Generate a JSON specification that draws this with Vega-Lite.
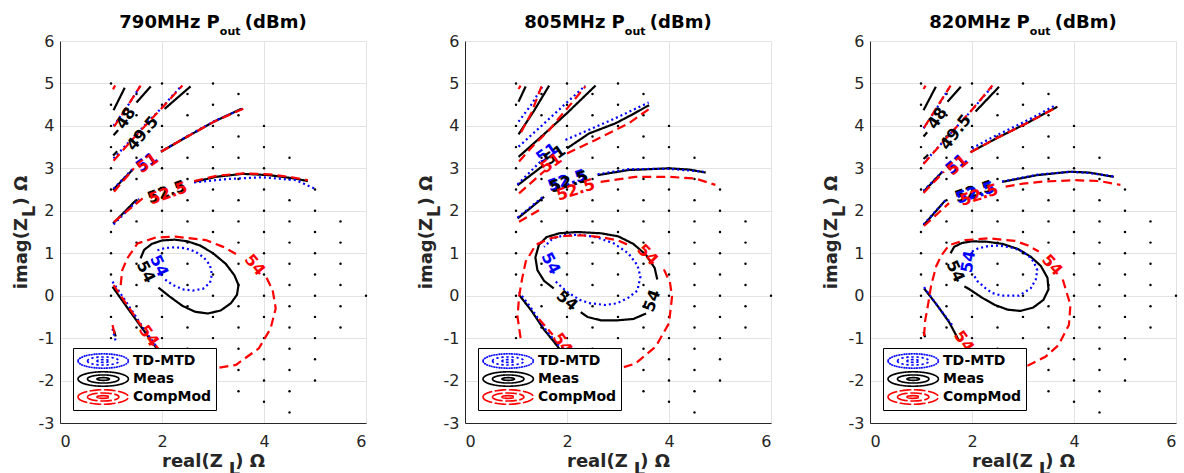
{
"$schema":"https://vega.github.io/schema/vega-lite/v6.json",
"background":"white",
"padding":{"left":12,"top":14,"right":0,"bottom":0},
"bounds":"flush",
"spacing":99,
"config":{
 "font":"DejaVu Sans",
 "view":{"stroke":null},
 "axis":{"labelFont":"DejaVu Sans","labelFontSize":16,"labelColor":"#262626","titleFont":"DejaVu Sans","titleFontSize":18,"titleFontWeight":"bold","titleColor":"#262626","gridColor":"#e3e3e3","gridWidth":1,"domainColor":"#262626","domainWidth":1,"ticks":false,"tickSize":0},
 "title":{"font":"DejaVu Sans","fontSize":18,"fontWeight":"bold","color":"black","frame":"group","anchor":"middle","offset":-4,"subtitleFont":"DejaVu Sans","subtitleFontSize":11,"subtitleFontWeight":"bold","subtitleColor":"black","subtitlePadding":-6}
},
"resolve":{"scale":{"color":"independent","strokeDash":"independent","fill":"independent"},"legend":{"color":"independent","strokeDash":"independent"}},
"datasets":{
"dots":[
{"x":1,"y":5},{"x":1,"y":4.5},{"x":1,"y":4},{"x":1,"y":3.5},{"x":1,"y":3},{"x":1,"y":2.5},{"x":1,"y":2},{"x":1,"y":1.5},{"x":1,"y":1},{"x":1,"y":0.5},{"x":1,"y":0},{"x":1,"y":-0.5},{"x":1,"y":-1},
{"x":1.5,"y":4.75},{"x":1.5,"y":4.25},{"x":1.5,"y":3.75},{"x":1.5,"y":3.25},{"x":1.5,"y":2.75},{"x":1.5,"y":2.25},{"x":1.5,"y":1.75},{"x":1.5,"y":1.25},{"x":1.5,"y":0.75},{"x":1.5,"y":0.25},{"x":1.5,"y":-0.25},{"x":1.5,"y":-0.75},
{"x":2,"y":5},{"x":2,"y":4.5},{"x":2,"y":4},{"x":2,"y":3.5},{"x":2,"y":3},{"x":2,"y":2.5},{"x":2,"y":2},{"x":2,"y":1.5},{"x":2,"y":1},{"x":2,"y":0.5},{"x":2,"y":0},{"x":2,"y":-0.5},{"x":2,"y":-1},
{"x":2.5,"y":4.75},{"x":2.5,"y":4.25},{"x":2.5,"y":3.75},{"x":2.5,"y":3.25},{"x":2.5,"y":2.75},{"x":2.5,"y":2.25},{"x":2.5,"y":1.75},{"x":2.5,"y":1.25},{"x":2.5,"y":0.75},{"x":2.5,"y":0.25},{"x":2.5,"y":-0.25},{"x":2.5,"y":-0.75},{"x":2.5,"y":-1.25},
{"x":3,"y":5},{"x":3,"y":4.5},{"x":3,"y":4},{"x":3,"y":3.5},{"x":3,"y":3},{"x":3,"y":2.5},{"x":3,"y":2},{"x":3,"y":1.5},{"x":3,"y":1},{"x":3,"y":0.5},{"x":3,"y":0},{"x":3,"y":-0.5},{"x":3,"y":-1},{"x":3,"y":-1.5},{"x":3,"y":-2},
{"x":3.5,"y":4.75},{"x":3.5,"y":4.25},{"x":3.5,"y":3.75},{"x":3.5,"y":3.25},{"x":3.5,"y":2.75},{"x":3.5,"y":2.25},{"x":3.5,"y":1.75},{"x":3.5,"y":1.25},{"x":3.5,"y":0.75},{"x":3.5,"y":0.25},{"x":3.5,"y":-0.25},{"x":3.5,"y":-0.75},{"x":3.5,"y":-1.25},{"x":3.5,"y":-1.75},{"x":3.5,"y":-2.25},
{"x":4,"y":4},{"x":4,"y":3.5},{"x":4,"y":3},{"x":4,"y":2.5},{"x":4,"y":2},{"x":4,"y":1.5},{"x":4,"y":1},{"x":4,"y":0.5},{"x":4,"y":0},{"x":4,"y":-0.5},{"x":4,"y":-1},{"x":4,"y":-1.5},{"x":4,"y":-2},{"x":4,"y":-2.5},
{"x":4.5,"y":3.25},{"x":4.5,"y":2.75},{"x":4.5,"y":2.25},{"x":4.5,"y":1.75},{"x":4.5,"y":1.25},{"x":4.5,"y":0.75},{"x":4.5,"y":0.25},{"x":4.5,"y":-0.25},{"x":4.5,"y":-0.75},{"x":4.5,"y":-1.25},{"x":4.5,"y":-1.75},{"x":4.5,"y":-2.25},{"x":4.5,"y":-2.75},
{"x":5,"y":2.5},{"x":5,"y":2},{"x":5,"y":1.5},{"x":5,"y":1},{"x":5,"y":0.5},{"x":5,"y":0},{"x":5,"y":-0.5},{"x":5,"y":-1},{"x":5,"y":-1.5},{"x":5,"y":-2},
{"x":5.5,"y":1.75},{"x":5.5,"y":1.25},{"x":5.5,"y":0.75},{"x":5.5,"y":0.25},{"x":5.5,"y":-0.25},{"x":5.5,"y":-0.75},
{"x":6,"y":0}
],
"lines":[
{"p":"790","s":"Meas","g":"m46","x":1.05,"y":4.37},{"p":"790","s":"Meas","g":"m46","x":1.27,"y":4.90},
{"p":"790","s":"Meas","g":"m48a","x":1.05,"y":3.78},{"p":"790","s":"Meas","g":"m48a","x":1.14,"y":3.90},
{"p":"790","s":"Meas","g":"m48b","x":1.50,"y":4.55},{"p":"790","s":"Meas","g":"m48b","x":1.78,"y":4.93},
{"p":"790","s":"Meas","g":"m49a","x":1.04,"y":3.30},{"p":"790","s":"Meas","g":"m49a","x":1.12,"y":3.40},
{"p":"790","s":"Meas","g":"m49b","x":2.05,"y":4.40},{"p":"790","s":"Meas","g":"m49b","x":2.30,"y":4.66},{"p":"790","s":"Meas","g":"m49b","x":2.56,"y":4.93},
{"p":"790","s":"Meas","g":"m51a","x":1.04,"y":2.49},{"p":"790","s":"Meas","g":"m51a","x":1.23,"y":2.73},{"p":"790","s":"Meas","g":"m51a","x":1.42,"y":2.96},
{"p":"790","s":"Meas","g":"m51b","x":1.98,"y":3.39},{"p":"790","s":"Meas","g":"m51b","x":2.5,"y":3.75},{"p":"790","s":"Meas","g":"m51b","x":3.02,"y":4.10},{"p":"790","s":"Meas","g":"m51b","x":3.55,"y":4.40},
{"p":"790","s":"Meas","g":"m52a","x":1.04,"y":1.70},{"p":"790","s":"Meas","g":"m52a","x":1.27,"y":1.98},{"p":"790","s":"Meas","g":"m52a","x":1.49,"y":2.25},
{"p":"790","s":"Meas","g":"m52b","x":2.63,"y":2.68},{"p":"790","s":"Meas","g":"m52b","x":3.06,"y":2.80},{"p":"790","s":"Meas","g":"m52b","x":3.58,"y":2.87},{"p":"790","s":"Meas","g":"m52b","x":4.10,"y":2.84},{"p":"790","s":"Meas","g":"m52b","x":4.55,"y":2.77},{"p":"790","s":"Meas","g":"m52b","x":4.86,"y":2.70},
{"p":"790","s":"Meas","g":"m54","x":1.58,"y":0.88},{"p":"790","s":"Meas","g":"m54","x":1.65,"y":1.08},{"p":"790","s":"Meas","g":"m54","x":1.80,"y":1.22},{"p":"790","s":"Meas","g":"m54","x":2.0,"y":1.30},{"p":"790","s":"Meas","g":"m54","x":2.25,"y":1.32},{"p":"790","s":"Meas","g":"m54","x":2.5,"y":1.28},{"p":"790","s":"Meas","g":"m54","x":2.75,"y":1.18},{"p":"790","s":"Meas","g":"m54","x":3.0,"y":1.0},{"p":"790","s":"Meas","g":"m54","x":3.25,"y":0.75},{"p":"790","s":"Meas","g":"m54","x":3.42,"y":0.48},{"p":"790","s":"Meas","g":"m54","x":3.50,"y":0.25},{"p":"790","s":"Meas","g":"m54","x":3.47,"y":0.02},{"p":"790","s":"Meas","g":"m54","x":3.35,"y":-0.18},{"p":"790","s":"Meas","g":"m54","x":3.15,"y":-0.35},{"p":"790","s":"Meas","g":"m54","x":2.9,"y":-0.42},{"p":"790","s":"Meas","g":"m54","x":2.65,"y":-0.38},{"p":"790","s":"Meas","g":"m54","x":2.4,"y":-0.24},{"p":"790","s":"Meas","g":"m54","x":2.15,"y":-0.02},{"p":"790","s":"Meas","g":"m54","x":1.93,"y":0.19},
{"p":"790","s":"Meas","g":"m54d","x":1.03,"y":0.21},{"p":"790","s":"Meas","g":"m54d","x":1.3,"y":-0.25},{"p":"790","s":"Meas","g":"m54d","x":1.6,"y":-0.75},{"p":"790","s":"Meas","g":"m54d","x":1.9,"y":-1.25},
{"p":"790","s":"Meas","g":"m54s","x":1.06,"y":-0.82},{"p":"790","s":"Meas","g":"m54s","x":1.09,"y":-0.96},
{"p":"790","s":"TD-MTD","g":"b48","x":1.05,"y":4.0},{"p":"790","s":"TD-MTD","g":"b48","x":1.3,"y":4.42},{"p":"790","s":"TD-MTD","g":"b48","x":1.57,"y":4.93},
{"p":"790","s":"TD-MTD","g":"b49","x":1.05,"y":3.23},{"p":"790","s":"TD-MTD","g":"b49","x":1.45,"y":3.75},{"p":"790","s":"TD-MTD","g":"b49","x":1.98,"y":4.41},{"p":"790","s":"TD-MTD","g":"b49","x":2.37,"y":4.93},
{"p":"790","s":"TD-MTD","g":"b51a","x":1.05,"y":2.52},{"p":"790","s":"TD-MTD","g":"b51a","x":1.42,"y":2.98},
{"p":"790","s":"TD-MTD","g":"b51b","x":1.98,"y":3.40},{"p":"790","s":"TD-MTD","g":"b51b","x":2.5,"y":3.76},{"p":"790","s":"TD-MTD","g":"b51b","x":3.02,"y":4.11},{"p":"790","s":"TD-MTD","g":"b51b","x":3.61,"y":4.42},
{"p":"790","s":"TD-MTD","g":"b52a","x":1.05,"y":1.68},{"p":"790","s":"TD-MTD","g":"b52a","x":1.55,"y":2.28},
{"p":"790","s":"TD-MTD","g":"b52b","x":2.63,"y":2.67},{"p":"790","s":"TD-MTD","g":"b52b","x":3.3,"y":2.75},{"p":"790","s":"TD-MTD","g":"b52b","x":3.97,"y":2.79},{"p":"790","s":"TD-MTD","g":"b52b","x":4.63,"y":2.72},{"p":"790","s":"TD-MTD","g":"b52b","x":5.0,"y":2.52},
{"p":"790","s":"TD-MTD","g":"b54","x":1.91,"y":1.07},{"p":"790","s":"TD-MTD","g":"b54","x":2.05,"y":1.12},{"p":"790","s":"TD-MTD","g":"b54","x":2.25,"y":1.14},{"p":"790","s":"TD-MTD","g":"b54","x":2.45,"y":1.12},{"p":"790","s":"TD-MTD","g":"b54","x":2.65,"y":1.04},{"p":"790","s":"TD-MTD","g":"b54","x":2.82,"y":0.9},{"p":"790","s":"TD-MTD","g":"b54","x":2.94,"y":0.72},{"p":"790","s":"TD-MTD","g":"b54","x":2.98,"y":0.5},{"p":"790","s":"TD-MTD","g":"b54","x":2.94,"y":0.3},{"p":"790","s":"TD-MTD","g":"b54","x":2.8,"y":0.16},{"p":"790","s":"TD-MTD","g":"b54","x":2.6,"y":0.12},{"p":"790","s":"TD-MTD","g":"b54","x":2.4,"y":0.15},{"p":"790","s":"TD-MTD","g":"b54","x":2.2,"y":0.26},{"p":"790","s":"TD-MTD","g":"b54","x":2.04,"y":0.40},
{"p":"790","s":"TD-MTD","g":"b54d","x":1.03,"y":0.33},{"p":"790","s":"TD-MTD","g":"b54d","x":1.3,"y":-0.15},{"p":"790","s":"TD-MTD","g":"b54d","x":1.6,"y":-0.7},{"p":"790","s":"TD-MTD","g":"b54d","x":1.92,"y":-1.25},
{"p":"790","s":"TD-MTD","g":"b54s","x":1.03,"y":-0.78},{"p":"790","s":"TD-MTD","g":"b54s","x":1.09,"y":-1.06},
{"p":"790","s":"CompMod","g":"r46","x":1.04,"y":4.86},{"p":"790","s":"CompMod","g":"r46","x":1.08,"y":4.95},
{"p":"790","s":"CompMod","g":"r48","x":1.06,"y":3.98},{"p":"790","s":"CompMod","g":"r48","x":1.3,"y":4.42},{"p":"790","s":"CompMod","g":"r48","x":1.58,"y":4.95},
{"p":"790","s":"CompMod","g":"r49","x":1.05,"y":3.18},{"p":"790","s":"CompMod","g":"r49","x":1.45,"y":3.72},{"p":"790","s":"CompMod","g":"r49","x":1.98,"y":4.40},{"p":"790","s":"CompMod","g":"r49","x":2.4,"y":4.95},
{"p":"790","s":"CompMod","g":"r51a","x":1.06,"y":2.45},{"p":"790","s":"CompMod","g":"r51a","x":1.45,"y":3.0},
{"p":"790","s":"CompMod","g":"r51b","x":1.98,"y":3.39},{"p":"790","s":"CompMod","g":"r51b","x":2.5,"y":3.75},{"p":"790","s":"CompMod","g":"r51b","x":3.02,"y":4.1},{"p":"790","s":"CompMod","g":"r51b","x":3.68,"y":4.45},
{"p":"790","s":"CompMod","g":"r52a","x":1.06,"y":1.74},{"p":"790","s":"CompMod","g":"r52a","x":1.62,"y":2.29},
{"p":"790","s":"CompMod","g":"r52b","x":2.63,"y":2.70},{"p":"790","s":"CompMod","g":"r52b","x":3.1,"y":2.83},{"p":"790","s":"CompMod","g":"r52b","x":3.6,"y":2.88},{"p":"790","s":"CompMod","g":"r52b","x":4.1,"y":2.86},{"p":"790","s":"CompMod","g":"r52b","x":4.55,"y":2.79},{"p":"790","s":"CompMod","g":"r52b","x":4.86,"y":2.72},
{"p":"790","s":"CompMod","g":"r54a","x":1.19,"y":0.25},{"p":"790","s":"CompMod","g":"r54a","x":1.22,"y":0.6},{"p":"790","s":"CompMod","g":"r54a","x":1.32,"y":0.88},{"p":"790","s":"CompMod","g":"r54a","x":1.52,"y":1.23},{"p":"790","s":"CompMod","g":"r54a","x":1.88,"y":1.37},{"p":"790","s":"CompMod","g":"r54a","x":2.27,"y":1.39},{"p":"790","s":"CompMod","g":"r54a","x":2.86,"y":1.31},{"p":"790","s":"CompMod","g":"r54a","x":3.2,"y":1.15},{"p":"790","s":"CompMod","g":"r54a","x":3.45,"y":0.98},
{"p":"790","s":"CompMod","g":"r54b","x":4.05,"y":0.42},{"p":"790","s":"CompMod","g":"r54b","x":4.17,"y":0.13},{"p":"790","s":"CompMod","g":"r54b","x":4.23,"y":-0.3},{"p":"790","s":"CompMod","g":"r54b","x":4.13,"y":-0.77},{"p":"790","s":"CompMod","g":"r54b","x":3.9,"y":-1.24},{"p":"790","s":"CompMod","g":"r54b","x":3.45,"y":-1.63},{"p":"790","s":"CompMod","g":"r54b","x":3.06,"y":-1.71},{"p":"790","s":"CompMod","g":"r54b","x":2.7,"y":-1.72},
{"p":"790","s":"CompMod","g":"r54s","x":1.03,"y":-0.69},{"p":"790","s":"CompMod","g":"r54s","x":1.09,"y":-1.0},
{"p":"790","s":"CompMod","g":"r54d","x":1.05,"y":0.25},{"p":"790","s":"CompMod","g":"r54d","x":1.35,"y":-0.28},{"p":"790","s":"CompMod","g":"r54d","x":1.6,"y":-0.72},
{"p":"790","s":"CompMod","g":"r54e","x":1.88,"y":-1.17},{"p":"790","s":"CompMod","g":"r54e","x":2.0,"y":-1.4},

{"p":"805","s":"Meas","g":"m46","x":1.05,"y":4.57},{"p":"805","s":"Meas","g":"m46","x":1.19,"y":4.93},
{"p":"805","s":"Meas","g":"m48","x":1.05,"y":3.80},{"p":"805","s":"Meas","g":"m48","x":1.35,"y":4.35},{"p":"805","s":"Meas","g":"m48","x":1.65,"y":4.95},
{"p":"805","s":"Meas","g":"m49","x":1.05,"y":3.27},{"p":"805","s":"Meas","g":"m49","x":1.5,"y":3.75},{"p":"805","s":"Meas","g":"m49","x":2.0,"y":4.3},{"p":"805","s":"Meas","g":"m49","x":2.56,"y":4.95},
{"p":"805","s":"Meas","g":"m51a","x":1.03,"y":2.6},{"p":"805","s":"Meas","g":"m51a","x":1.3,"y":2.85},{"p":"805","s":"Meas","g":"m51a","x":1.55,"y":3.08},
{"p":"805","s":"Meas","g":"m51b","x":2.0,"y":3.47},{"p":"805","s":"Meas","g":"m51b","x":2.43,"y":3.82},{"p":"805","s":"Meas","g":"m51b","x":2.95,"y":4.06},{"p":"805","s":"Meas","g":"m51b","x":3.3,"y":4.28},{"p":"805","s":"Meas","g":"m51b","x":3.61,"y":4.49},
{"p":"805","s":"Meas","g":"m52a","x":1.03,"y":1.82},{"p":"805","s":"Meas","g":"m52a","x":1.3,"y":2.08},{"p":"805","s":"Meas","g":"m52a","x":1.55,"y":2.33},
{"p":"805","s":"Meas","g":"m52b","x":2.6,"y":2.84},{"p":"805","s":"Meas","g":"m52b","x":3.21,"y":2.96},{"p":"805","s":"Meas","g":"m52b","x":4.0,"y":3.0},{"p":"805","s":"Meas","g":"m52b","x":4.4,"y":2.97},{"p":"805","s":"Meas","g":"m52b","x":4.72,"y":2.9},
{"p":"805","s":"Meas","g":"m54a","x":1.74,"y":0.17},{"p":"805","s":"Meas","g":"m54a","x":1.55,"y":0.35},{"p":"805","s":"Meas","g":"m54a","x":1.42,"y":0.6},{"p":"805","s":"Meas","g":"m54a","x":1.38,"y":0.9},{"p":"805","s":"Meas","g":"m54a","x":1.45,"y":1.2},{"p":"805","s":"Meas","g":"m54a","x":1.6,"y":1.38},{"p":"805","s":"Meas","g":"m54a","x":1.85,"y":1.47},{"p":"805","s":"Meas","g":"m54a","x":2.2,"y":1.5},{"p":"805","s":"Meas","g":"m54a","x":2.66,"y":1.47},{"p":"805","s":"Meas","g":"m54a","x":3.0,"y":1.4},{"p":"805","s":"Meas","g":"m54a","x":3.3,"y":1.22},{"p":"805","s":"Meas","g":"m54a","x":3.55,"y":0.96},{"p":"805","s":"Meas","g":"m54a","x":3.72,"y":0.65},{"p":"805","s":"Meas","g":"m54a","x":3.77,"y":0.38},
{"p":"805","s":"Meas","g":"m54b","x":3.55,"y":-0.42},{"p":"805","s":"Meas","g":"m54b","x":3.3,"y":-0.55},{"p":"805","s":"Meas","g":"m54b","x":3.0,"y":-0.58},{"p":"805","s":"Meas","g":"m54b","x":2.66,"y":-0.58},{"p":"805","s":"Meas","g":"m54b","x":2.4,"y":-0.5},{"p":"805","s":"Meas","g":"m54b","x":2.27,"y":-0.39},
{"p":"805","s":"Meas","g":"m54d","x":1.06,"y":0.02},{"p":"805","s":"Meas","g":"m54d","x":1.3,"y":-0.35},{"p":"805","s":"Meas","g":"m54d","x":1.55,"y":-0.8},{"p":"805","s":"Meas","g":"m54d","x":1.74,"y":-1.08},{"p":"805","s":"Meas","g":"m54d","x":1.85,"y":-1.25},
{"p":"805","s":"TD-MTD","g":"b48","x":1.05,"y":4.1},{"p":"805","s":"TD-MTD","g":"b48","x":1.3,"y":4.5},{"p":"805","s":"TD-MTD","g":"b48","x":1.53,"y":4.95},
{"p":"805","s":"TD-MTD","g":"b49","x":1.05,"y":3.51},{"p":"805","s":"TD-MTD","g":"b49","x":1.5,"y":4.0},{"p":"805","s":"TD-MTD","g":"b49","x":1.95,"y":4.5},{"p":"805","s":"TD-MTD","g":"b49","x":2.36,"y":4.95},
{"p":"805","s":"TD-MTD","g":"b51a","x":1.03,"y":2.62},{"p":"805","s":"TD-MTD","g":"b51a","x":1.48,"y":3.16},
{"p":"805","s":"TD-MTD","g":"b51b","x":1.97,"y":3.67},{"p":"805","s":"TD-MTD","g":"b51b","x":2.49,"y":3.94},{"p":"805","s":"TD-MTD","g":"b51b","x":3.02,"y":4.22},{"p":"805","s":"TD-MTD","g":"b51b","x":3.6,"y":4.55},
{"p":"805","s":"TD-MTD","g":"b52a","x":1.03,"y":1.84},{"p":"805","s":"TD-MTD","g":"b52a","x":1.55,"y":2.35},
{"p":"805","s":"TD-MTD","g":"b52b","x":2.6,"y":2.86},{"p":"805","s":"TD-MTD","g":"b52b","x":3.21,"y":2.98},{"p":"805","s":"TD-MTD","g":"b52b","x":4.0,"y":2.99},{"p":"805","s":"TD-MTD","g":"b52b","x":4.68,"y":2.92},
{"p":"805","s":"TD-MTD","g":"b54","x":1.78,"y":0.33},{"p":"805","s":"TD-MTD","g":"b54","x":2.0,"y":0.09},{"p":"805","s":"TD-MTD","g":"b54","x":2.25,"y":-0.1},{"p":"805","s":"TD-MTD","g":"b54","x":2.46,"y":-0.18},{"p":"805","s":"TD-MTD","g":"b54","x":2.75,"y":-0.22},{"p":"805","s":"TD-MTD","g":"b54","x":2.98,"y":-0.18},{"p":"805","s":"TD-MTD","g":"b54","x":3.2,"y":-0.05},{"p":"805","s":"TD-MTD","g":"b54","x":3.38,"y":0.12},{"p":"805","s":"TD-MTD","g":"b54","x":3.44,"y":0.45},{"p":"805","s":"TD-MTD","g":"b54","x":3.38,"y":0.72},{"p":"805","s":"TD-MTD","g":"b54","x":3.2,"y":1.0},{"p":"805","s":"TD-MTD","g":"b54","x":2.92,"y":1.23},{"p":"805","s":"TD-MTD","g":"b54","x":2.6,"y":1.37},{"p":"805","s":"TD-MTD","g":"b54","x":2.3,"y":1.43},{"p":"805","s":"TD-MTD","g":"b54","x":1.97,"y":1.43},{"p":"805","s":"TD-MTD","g":"b54","x":1.72,"y":1.35},{"p":"805","s":"TD-MTD","g":"b54","x":1.55,"y":1.15},
{"p":"805","s":"TD-MTD","g":"b54d","x":1.06,"y":0.09},{"p":"805","s":"TD-MTD","g":"b54d","x":1.3,"y":-0.3},{"p":"805","s":"TD-MTD","g":"b54d","x":1.55,"y":-0.75},{"p":"805","s":"TD-MTD","g":"b54d","x":1.78,"y":-1.1},{"p":"805","s":"TD-MTD","g":"b54d","x":1.9,"y":-1.25},
{"p":"805","s":"CompMod","g":"r46","x":1.05,"y":4.87},{"p":"805","s":"CompMod","g":"r46","x":1.09,"y":4.95},
{"p":"805","s":"CompMod","g":"r48","x":1.1,"y":3.85},{"p":"805","s":"CompMod","g":"r48","x":1.3,"y":4.3},{"p":"805","s":"CompMod","g":"r48","x":1.5,"y":4.93},
{"p":"805","s":"CompMod","g":"r49","x":1.06,"y":3.16},{"p":"805","s":"CompMod","g":"r49","x":1.35,"y":3.55},{"p":"805","s":"CompMod","g":"r49","x":1.65,"y":3.90},{"p":"805","s":"CompMod","g":"r49","x":1.84,"y":4.18},{"p":"805","s":"CompMod","g":"r49","x":2.1,"y":4.55},{"p":"805","s":"CompMod","g":"r49","x":2.36,"y":4.93},
{"p":"805","s":"CompMod","g":"r51a","x":1.06,"y":2.41},{"p":"805","s":"CompMod","g":"r51a","x":1.58,"y":2.96},
{"p":"805","s":"CompMod","g":"r51b","x":2.0,"y":3.35},{"p":"805","s":"CompMod","g":"r51b","x":2.56,"y":3.67},{"p":"805","s":"CompMod","g":"r51b","x":3.21,"y":4.06},{"p":"805","s":"CompMod","g":"r51b","x":3.67,"y":4.45},
{"p":"805","s":"CompMod","g":"r52a","x":1.06,"y":1.74},{"p":"805","s":"CompMod","g":"r52a","x":1.52,"y":2.06},
{"p":"805","s":"CompMod","g":"r52b","x":2.66,"y":2.68},{"p":"805","s":"CompMod","g":"r52b","x":3.34,"y":2.8},{"p":"805","s":"CompMod","g":"r52b","x":4.0,"y":2.8},{"p":"805","s":"CompMod","g":"r52b","x":4.52,"y":2.76},{"p":"805","s":"CompMod","g":"r52b","x":4.91,"y":2.61},
{"p":"805","s":"CompMod","g":"r54a","x":1.09,"y":-1.0},{"p":"805","s":"CompMod","g":"r54a","x":1.03,"y":-0.5},{"p":"805","s":"CompMod","g":"r54a","x":1.06,"y":-0.02},{"p":"805","s":"CompMod","g":"r54a","x":1.12,"y":0.4},{"p":"805","s":"CompMod","g":"r54a","x":1.19,"y":0.8},{"p":"805","s":"CompMod","g":"r54a","x":1.39,"y":1.2},{"p":"805","s":"CompMod","g":"r54a","x":1.7,"y":1.36},{"p":"805","s":"CompMod","g":"r54a","x":1.97,"y":1.41},{"p":"805","s":"CompMod","g":"r54a","x":2.3,"y":1.42},{"p":"805","s":"CompMod","g":"r54a","x":2.66,"y":1.38},{"p":"805","s":"CompMod","g":"r54a","x":3.0,"y":1.3},{"p":"805","s":"CompMod","g":"r54a","x":3.25,"y":1.17},
{"p":"805","s":"CompMod","g":"r54b","x":3.9,"y":0.62},{"p":"805","s":"CompMod","g":"r54b","x":4.02,"y":0.3},{"p":"805","s":"CompMod","g":"r54b","x":4.06,"y":-0.02},{"p":"805","s":"CompMod","g":"r54b","x":4.0,"y":-0.65},{"p":"805","s":"CompMod","g":"r54b","x":3.74,"y":-1.2},{"p":"805","s":"CompMod","g":"r54b","x":3.34,"y":-1.6},{"p":"805","s":"CompMod","g":"r54b","x":3.02,"y":-1.72},{"p":"805","s":"CompMod","g":"r54b","x":2.7,"y":-1.75},
{"p":"805","s":"CompMod","g":"r54d","x":1.45,"y":-0.55},{"p":"805","s":"CompMod","g":"r54d","x":1.72,"y":-0.92},

{"p":"820","s":"Meas","g":"m46","x":1.05,"y":4.37},{"p":"820","s":"Meas","g":"m46","x":1.29,"y":4.92},
{"p":"820","s":"Meas","g":"m48a","x":1.05,"y":3.75},{"p":"820","s":"Meas","g":"m48a","x":1.12,"y":3.85},
{"p":"820","s":"Meas","g":"m48b","x":1.52,"y":4.57},{"p":"820","s":"Meas","g":"m48b","x":1.78,"y":4.92},
{"p":"820","s":"Meas","g":"m49a","x":1.05,"y":3.22},{"p":"820","s":"Meas","g":"m49a","x":1.14,"y":3.32},
{"p":"820","s":"Meas","g":"m49b","x":2.07,"y":4.34},{"p":"820","s":"Meas","g":"m49b","x":2.3,"y":4.63},{"p":"820","s":"Meas","g":"m49b","x":2.53,"y":4.92},
{"p":"820","s":"Meas","g":"m51a","x":1.05,"y":2.45},{"p":"820","s":"Meas","g":"m51a","x":1.42,"y":2.92},
{"p":"820","s":"Meas","g":"m51b","x":1.97,"y":3.38},{"p":"820","s":"Meas","g":"m51b","x":2.5,"y":3.72},{"p":"820","s":"Meas","g":"m51b","x":3.1,"y":4.08},{"p":"820","s":"Meas","g":"m51b","x":3.67,"y":4.45},
{"p":"820","s":"Meas","g":"m52a","x":1.05,"y":1.66},{"p":"820","s":"Meas","g":"m52a","x":1.48,"y":2.25},
{"p":"820","s":"Meas","g":"m52b","x":2.59,"y":2.68},{"p":"820","s":"Meas","g":"m52b","x":3.28,"y":2.84},{"p":"820","s":"Meas","g":"m52b","x":3.93,"y":2.92},{"p":"820","s":"Meas","g":"m52b","x":4.3,"y":2.9},{"p":"820","s":"Meas","g":"m52b","x":4.78,"y":2.8},
{"p":"820","s":"Meas","g":"m54","x":1.58,"y":1.0},{"p":"820","s":"Meas","g":"m54","x":1.65,"y":1.15},{"p":"820","s":"Meas","g":"m54","x":1.8,"y":1.24},{"p":"820","s":"Meas","g":"m54","x":2.0,"y":1.28},{"p":"820","s":"Meas","g":"m54","x":2.3,"y":1.27},{"p":"820","s":"Meas","g":"m54","x":2.6,"y":1.22},{"p":"820","s":"Meas","g":"m54","x":2.9,"y":1.1},{"p":"820","s":"Meas","g":"m54","x":3.15,"y":0.92},{"p":"820","s":"Meas","g":"m54","x":3.35,"y":0.7},{"p":"820","s":"Meas","g":"m54","x":3.48,"y":0.42},{"p":"820","s":"Meas","g":"m54","x":3.5,"y":0.15},{"p":"820","s":"Meas","g":"m54","x":3.4,"y":-0.1},{"p":"820","s":"Meas","g":"m54","x":3.2,"y":-0.28},{"p":"820","s":"Meas","g":"m54","x":2.95,"y":-0.36},{"p":"820","s":"Meas","g":"m54","x":2.7,"y":-0.33},{"p":"820","s":"Meas","g":"m54","x":2.45,"y":-0.22},{"p":"820","s":"Meas","g":"m54","x":2.2,"y":-0.05},{"p":"820","s":"Meas","g":"m54","x":1.95,"y":0.15},{"p":"820","s":"Meas","g":"m54","x":1.85,"y":0.22},
{"p":"820","s":"Meas","g":"m54d","x":1.06,"y":0.17},{"p":"820","s":"Meas","g":"m54d","x":1.3,"y":-0.2},{"p":"820","s":"Meas","g":"m54d","x":1.55,"y":-0.62},{"p":"820","s":"Meas","g":"m54d","x":1.74,"y":-1.05},
{"p":"820","s":"Meas","g":"m54s","x":1.05,"y":-0.85},{"p":"820","s":"Meas","g":"m54s","x":1.08,"y":-0.98},
{"p":"820","s":"TD-MTD","g":"b48","x":1.05,"y":3.94},{"p":"820","s":"TD-MTD","g":"b48","x":1.3,"y":4.4},{"p":"820","s":"TD-MTD","g":"b48","x":1.57,"y":4.93},
{"p":"820","s":"TD-MTD","g":"b49","x":1.05,"y":3.12},{"p":"820","s":"TD-MTD","g":"b49","x":1.45,"y":3.65},{"p":"820","s":"TD-MTD","g":"b49","x":1.98,"y":4.35},{"p":"820","s":"TD-MTD","g":"b49","x":2.4,"y":4.93},
{"p":"820","s":"TD-MTD","g":"b51a","x":1.05,"y":2.47},{"p":"820","s":"TD-MTD","g":"b51a","x":1.44,"y":2.95},
{"p":"820","s":"TD-MTD","g":"b51b","x":2.0,"y":3.47},{"p":"820","s":"TD-MTD","g":"b51b","x":2.35,"y":3.7},{"p":"820","s":"TD-MTD","g":"b51b","x":2.76,"y":3.94},{"p":"820","s":"TD-MTD","g":"b51b","x":3.2,"y":4.2},{"p":"820","s":"TD-MTD","g":"b51b","x":3.64,"y":4.49},
{"p":"820","s":"TD-MTD","g":"b52a","x":1.05,"y":1.68},{"p":"820","s":"TD-MTD","g":"b52a","x":1.5,"y":2.27},
{"p":"820","s":"TD-MTD","g":"b52b","x":2.59,"y":2.69},{"p":"820","s":"TD-MTD","g":"b52b","x":3.28,"y":2.85},{"p":"820","s":"TD-MTD","g":"b52b","x":3.93,"y":2.92},{"p":"820","s":"TD-MTD","g":"b52b","x":4.3,"y":2.89},{"p":"820","s":"TD-MTD","g":"b52b","x":4.78,"y":2.81},
{"p":"820","s":"TD-MTD","g":"b54","x":2.0,"y":1.04},{"p":"820","s":"TD-MTD","g":"b54","x":2.13,"y":1.12},{"p":"820","s":"TD-MTD","g":"b54","x":2.33,"y":1.17},{"p":"820","s":"TD-MTD","g":"b54","x":2.53,"y":1.18},{"p":"820","s":"TD-MTD","g":"b54","x":2.75,"y":1.14},{"p":"820","s":"TD-MTD","g":"b54","x":2.92,"y":1.08},{"p":"820","s":"TD-MTD","g":"b54","x":3.1,"y":0.95},{"p":"820","s":"TD-MTD","g":"b54","x":3.21,"y":0.8},{"p":"820","s":"TD-MTD","g":"b54","x":3.28,"y":0.6},{"p":"820","s":"TD-MTD","g":"b54","x":3.25,"y":0.38},{"p":"820","s":"TD-MTD","g":"b54","x":3.15,"y":0.17},{"p":"820","s":"TD-MTD","g":"b54","x":2.92,"y":0.0},{"p":"820","s":"TD-MTD","g":"b54","x":2.59,"y":0.0},{"p":"820","s":"TD-MTD","g":"b54","x":2.4,"y":0.06},{"p":"820","s":"TD-MTD","g":"b54","x":2.27,"y":0.17},{"p":"820","s":"TD-MTD","g":"b54","x":2.1,"y":0.35},{"p":"820","s":"TD-MTD","g":"b54","x":2.02,"y":0.52},
{"p":"820","s":"TD-MTD","g":"b54d","x":1.06,"y":0.2},{"p":"820","s":"TD-MTD","g":"b54d","x":1.3,"y":-0.2},{"p":"820","s":"TD-MTD","g":"b54d","x":1.61,"y":-0.69},
{"p":"820","s":"CompMod","g":"r46","x":1.05,"y":4.87},{"p":"820","s":"CompMod","g":"r46","x":1.09,"y":4.95},
{"p":"820","s":"CompMod","g":"r48","x":1.06,"y":3.96},{"p":"820","s":"CompMod","g":"r48","x":1.3,"y":4.42},{"p":"820","s":"CompMod","g":"r48","x":1.58,"y":4.95},
{"p":"820","s":"CompMod","g":"r49","x":1.05,"y":3.10},{"p":"820","s":"CompMod","g":"r49","x":1.45,"y":3.65},{"p":"820","s":"CompMod","g":"r49","x":1.98,"y":4.35},{"p":"820","s":"CompMod","g":"r49","x":2.4,"y":4.95},
{"p":"820","s":"CompMod","g":"r51a","x":1.05,"y":2.42},{"p":"820","s":"CompMod","g":"r51a","x":1.45,"y":2.92},
{"p":"820","s":"CompMod","g":"r51b","x":1.97,"y":3.38},{"p":"820","s":"CompMod","g":"r51b","x":2.5,"y":3.72},{"p":"820","s":"CompMod","g":"r51b","x":3.1,"y":4.08},{"p":"820","s":"CompMod","g":"r51b","x":3.68,"y":4.45},
{"p":"820","s":"CompMod","g":"r52a","x":1.06,"y":1.64},{"p":"820","s":"CompMod","g":"r52a","x":1.55,"y":2.18},
{"p":"820","s":"CompMod","g":"r52b","x":2.66,"y":2.57},{"p":"820","s":"CompMod","g":"r52b","x":3.0,"y":2.64},{"p":"820","s":"CompMod","g":"r52b","x":3.41,"y":2.69},{"p":"820","s":"CompMod","g":"r52b","x":4.03,"y":2.72},{"p":"820","s":"CompMod","g":"r52b","x":4.5,"y":2.7},{"p":"820","s":"CompMod","g":"r52b","x":4.91,"y":2.61},
{"p":"820","s":"CompMod","g":"r54a","x":1.06,"y":-0.95},{"p":"820","s":"CompMod","g":"r54a","x":1.08,"y":-0.6},{"p":"820","s":"CompMod","g":"r54a","x":1.14,"y":-0.2},{"p":"820","s":"CompMod","g":"r54a","x":1.2,"y":0.25},{"p":"820","s":"CompMod","g":"r54a","x":1.3,"y":0.7},{"p":"820","s":"CompMod","g":"r54a","x":1.4,"y":0.95},{"p":"820","s":"CompMod","g":"r54a","x":1.55,"y":1.19},{"p":"820","s":"CompMod","g":"r54a","x":1.87,"y":1.31},{"p":"820","s":"CompMod","g":"r54a","x":2.33,"y":1.35},{"p":"820","s":"CompMod","g":"r54a","x":2.85,"y":1.29},{"p":"820","s":"CompMod","g":"r54a","x":3.1,"y":1.18},{"p":"820","s":"CompMod","g":"r54a","x":3.31,"y":1.04},
{"p":"820","s":"CompMod","g":"r54b","x":3.78,"y":0.38},{"p":"820","s":"CompMod","g":"r54b","x":3.93,"y":-0.22},{"p":"820","s":"CompMod","g":"r54b","x":3.9,"y":-0.69},{"p":"820","s":"CompMod","g":"r54b","x":3.7,"y":-1.16},{"p":"820","s":"CompMod","g":"r54b","x":3.44,"y":-1.44},{"p":"820","s":"CompMod","g":"r54b","x":3.11,"y":-1.64},{"p":"820","s":"CompMod","g":"r54b","x":2.8,"y":-1.7}
],
"labels":[
{"p":"790","s":"Meas","t":"48","a":-57,"x":1.29,"y":4.18},
{"p":"790","s":"Meas","t":"49.5","a":-50,"x":1.62,"y":3.82},
{"p":"790","s":"TD-MTD","t":"51","a":-35,"x":1.70,"y":3.14},
{"p":"790","s":"CompMod","t":"51","a":-35,"x":1.72,"y":3.12},
{"p":"790","s":"Meas","t":"52.5","a":-20,"x":2.09,"y":2.44},
{"p":"790","s":"CompMod","t":"52.5","a":-20,"x":2.12,"y":2.41},
{"p":"790","s":"Meas","t":"54","a":63,"x":1.68,"y":0.56},
{"p":"790","s":"TD-MTD","t":"54","a":65,"x":1.94,"y":0.70},
{"p":"790","s":"CompMod","t":"54","a":50,"x":3.82,"y":0.72},
{"p":"790","s":"CompMod","t":"54","a":55,"x":1.74,"y":-0.95},
{"p":"805","s":"TD-MTD","t":"51","a":-35,"x":1.61,"y":3.36},
{"p":"805","s":"Meas","t":"51","a":-35,"x":1.76,"y":3.31},
{"p":"805","s":"CompMod","t":"51","a":-35,"x":1.69,"y":3.12},
{"p":"805","s":"TD-MTD","t":"52.5","a":-18,"x":2.0,"y":2.71},
{"p":"805","s":"Meas","t":"52.5","a":-18,"x":2.04,"y":2.68},
{"p":"805","s":"CompMod","t":"52.5","a":-18,"x":2.17,"y":2.49},
{"p":"805","s":"TD-MTD","t":"54","a":62,"x":1.68,"y":0.76},
{"p":"805","s":"Meas","t":"54","a":40,"x":2.0,"y":-0.12},
{"p":"805","s":"Meas","t":"54","a":-70,"x":3.67,"y":-0.12},
{"p":"805","s":"CompMod","t":"54","a":45,"x":3.58,"y":0.96},
{"p":"805","s":"CompMod","t":"54","a":55,"x":1.91,"y":-1.13},
{"p":"820","s":"Meas","t":"48","a":-57,"x":1.32,"y":4.18},
{"p":"820","s":"Meas","t":"49.5","a":-52,"x":1.68,"y":3.85},
{"p":"820","s":"TD-MTD","t":"51","a":-40,"x":1.69,"y":3.10},
{"p":"820","s":"CompMod","t":"51","a":-40,"x":1.72,"y":3.07},
{"p":"820","s":"Meas","t":"52.5","a":-18,"x":2.04,"y":2.45},
{"p":"820","s":"TD-MTD","t":"52.5","a":-18,"x":2.07,"y":2.42},
{"p":"820","s":"CompMod","t":"52.5","a":-18,"x":2.14,"y":2.37},
{"p":"820","s":"Meas","t":"54","a":65,"x":1.67,"y":0.57},
{"p":"820","s":"TD-MTD","t":"54","a":-80,"x":1.93,"y":0.8},
{"p":"820","s":"CompMod","t":"54","a":48,"x":3.57,"y":0.72},
{"p":"820","s":"CompMod","t":"54","a":55,"x":1.84,"y":-1.08}
]
},
"hconcat":[
{"width":306,"height":382,
 "title":{"text":"790MHz P\u2007\u2007(dBm)","subtitle":"\u2800\u2800\u2800\u2800out"},
 "layer":[
  {"data":{"name":"dots"},"mark":{"type":"point","filled":true,"color":"black","size":6,"opacity":1},
   "encoding":{"x":{"field":"x","type":"quantitative","scale":{"domain":[0,6],"nice":false,"zero":false},"axis":{"values":[0,2,4,6],"title":["real(Z\u2007) Ω","\u2800\u2800\u2800L"],"titleLineHeight":8,"labelPadding":10,"titlePadding":3}},
               "y":{"field":"y","type":"quantitative","scale":{"domain":[-3,6],"nice":false,"zero":false},"axis":{"values":[-3,-2,-1,0,1,2,3,4,5,6],"labelExpr":"''+datum.value","title":["imag(Z\u2007) Ω","\u2800\u2800\u2800L"],"titleLineHeight":8,"labelPadding":6,"titlePadding":0}}}},
  {"data":{"name":"lines"},"transform":[{"filter":"datum.p==='790'"}],"mark":{"type":"line","strokeWidth":2.2,"strokeCap":"butt"},
   "encoding":{"x":{"field":"x","type":"quantitative"},"y":{"field":"y","type":"quantitative"},
     "color":{"field":"s","type":"nominal","scale":{"domain":["TD-MTD","Meas","CompMod"],"range":["#0000ff","#000000","#ff0000"]},
       "legend":{"title":null,"orient":"bottom-left","offset":13,"fillColor":"white","strokeColor":"black","padding":4,"cornerRadius":0,"symbolType":"M -1 0 A 2.8 0.8 0 0 1 4.6 0 A 2.8 0.8 0 0 0 -1 0 M -1 0 A 2.8 0.8 0 0 0 4.6 0 A 2.8 0.8 0 0 1 -1 0 M 0.05 0 A 1.75 0.45 0 0 1 3.55 0 A 1.75 0.45 0 0 0 0.05 0 M 0.05 0 A 1.75 0.45 0 0 0 3.55 0 A 1.75 0.45 0 0 1 0.05 0 M 1.1 0 A 0.7 0.15 0 0 1 2.5 0 A 0.7 0.15 0 0 0 1.1 0 M 1.1 0 A 0.7 0.15 0 0 0 2.5 0 A 0.7 0.15 0 0 1 1.1 0","symbolSize":324,"symbolStrokeWidth":1.6,"labelFont":"DejaVu Sans","labelFontSize":14,"labelFontWeight":"bold","labelColor":"black","labelOffset":36,"rowPadding":0,"clipHeight":18,"labelLimit":90}},
     "strokeDash":{"field":"s","type":"nominal","scale":{"domain":["TD-MTD","Meas","CompMod"],"range":[[2,3],[1,0],[9,5]]},
       "legend":{"title":null,"orient":"bottom-left","offset":13,"fillColor":"white","strokeColor":"black","padding":4,"cornerRadius":0,"symbolType":"M -1 0 A 2.8 0.8 0 0 1 4.6 0 A 2.8 0.8 0 0 0 -1 0 M -1 0 A 2.8 0.8 0 0 0 4.6 0 A 2.8 0.8 0 0 1 -1 0 M 0.05 0 A 1.75 0.45 0 0 1 3.55 0 A 1.75 0.45 0 0 0 0.05 0 M 0.05 0 A 1.75 0.45 0 0 0 3.55 0 A 1.75 0.45 0 0 1 0.05 0 M 1.1 0 A 0.7 0.15 0 0 1 2.5 0 A 0.7 0.15 0 0 0 1.1 0 M 1.1 0 A 0.7 0.15 0 0 0 2.5 0 A 0.7 0.15 0 0 1 1.1 0","symbolSize":324,"symbolStrokeWidth":1.6,"labelFont":"DejaVu Sans","labelFontSize":14,"labelFontWeight":"bold","labelColor":"black","labelOffset":36,"rowPadding":0,"clipHeight":18,"labelLimit":90}},
     "detail":{"field":"g"},"order":{"value":null}}},
  {"data":{"name":"labels"},"transform":[{"filter":"datum.p==='790'"}],"mark":{"type":"text","font":"DejaVu Sans","fontSize":16,"fontWeight":"bold"},
   "encoding":{"x":{"field":"x","type":"quantitative"},"y":{"field":"y","type":"quantitative"},"text":{"field":"t"},"angle":{"field":"a","type":"quantitative","scale":null},
     "fill":{"field":"s","type":"nominal","scale":{"domain":["TD-MTD","Meas","CompMod"],"range":["#0000ff","#000000","#ff0000"]},"legend":null}}}
 ]},
{"width":306,"height":382,
 "title":{"text":"805MHz P\u2007\u2007(dBm)","subtitle":"\u2800\u2800\u2800\u2800out"},
 "layer":[
  {"data":{"name":"dots"},"mark":{"type":"point","filled":true,"color":"black","size":6,"opacity":1},
   "encoding":{"x":{"field":"x","type":"quantitative","scale":{"domain":[0,6],"nice":false,"zero":false},"axis":{"values":[0,2,4,6],"title":["real(Z\u2007) Ω","\u2800\u2800\u2800L"],"titleLineHeight":8,"labelPadding":10,"titlePadding":3}},
               "y":{"field":"y","type":"quantitative","scale":{"domain":[-3,6],"nice":false,"zero":false},"axis":{"values":[-3,-2,-1,0,1,2,3,4,5,6],"labelExpr":"''+datum.value","title":["imag(Z\u2007) Ω","\u2800\u2800\u2800L"],"titleLineHeight":8,"labelPadding":6,"titlePadding":0}}}},
  {"data":{"name":"lines"},"transform":[{"filter":"datum.p==='805'"}],"mark":{"type":"line","strokeWidth":2.2,"strokeCap":"butt"},
   "encoding":{"x":{"field":"x","type":"quantitative"},"y":{"field":"y","type":"quantitative"},
     "color":{"field":"s","type":"nominal","scale":{"domain":["TD-MTD","Meas","CompMod"],"range":["#0000ff","#000000","#ff0000"]},
       "legend":{"title":null,"orient":"bottom-left","offset":13,"fillColor":"white","strokeColor":"black","padding":4,"cornerRadius":0,"symbolType":"M -1 0 A 2.8 0.8 0 0 1 4.6 0 A 2.8 0.8 0 0 0 -1 0 M -1 0 A 2.8 0.8 0 0 0 4.6 0 A 2.8 0.8 0 0 1 -1 0 M 0.05 0 A 1.75 0.45 0 0 1 3.55 0 A 1.75 0.45 0 0 0 0.05 0 M 0.05 0 A 1.75 0.45 0 0 0 3.55 0 A 1.75 0.45 0 0 1 0.05 0 M 1.1 0 A 0.7 0.15 0 0 1 2.5 0 A 0.7 0.15 0 0 0 1.1 0 M 1.1 0 A 0.7 0.15 0 0 0 2.5 0 A 0.7 0.15 0 0 1 1.1 0","symbolSize":324,"symbolStrokeWidth":1.6,"labelFont":"DejaVu Sans","labelFontSize":14,"labelFontWeight":"bold","labelColor":"black","labelOffset":36,"rowPadding":0,"clipHeight":18,"labelLimit":90}},
     "strokeDash":{"field":"s","type":"nominal","scale":{"domain":["TD-MTD","Meas","CompMod"],"range":[[2,3],[1,0],[9,5]]},
       "legend":{"title":null,"orient":"bottom-left","offset":13,"fillColor":"white","strokeColor":"black","padding":4,"cornerRadius":0,"symbolType":"M -1 0 A 2.8 0.8 0 0 1 4.6 0 A 2.8 0.8 0 0 0 -1 0 M -1 0 A 2.8 0.8 0 0 0 4.6 0 A 2.8 0.8 0 0 1 -1 0 M 0.05 0 A 1.75 0.45 0 0 1 3.55 0 A 1.75 0.45 0 0 0 0.05 0 M 0.05 0 A 1.75 0.45 0 0 0 3.55 0 A 1.75 0.45 0 0 1 0.05 0 M 1.1 0 A 0.7 0.15 0 0 1 2.5 0 A 0.7 0.15 0 0 0 1.1 0 M 1.1 0 A 0.7 0.15 0 0 0 2.5 0 A 0.7 0.15 0 0 1 1.1 0","symbolSize":324,"symbolStrokeWidth":1.6,"labelFont":"DejaVu Sans","labelFontSize":14,"labelFontWeight":"bold","labelColor":"black","labelOffset":36,"rowPadding":0,"clipHeight":18,"labelLimit":90}},
     "detail":{"field":"g"},"order":{"value":null}}},
  {"data":{"name":"labels"},"transform":[{"filter":"datum.p==='805'"}],"mark":{"type":"text","font":"DejaVu Sans","fontSize":16,"fontWeight":"bold"},
   "encoding":{"x":{"field":"x","type":"quantitative"},"y":{"field":"y","type":"quantitative"},"text":{"field":"t"},"angle":{"field":"a","type":"quantitative","scale":null},
     "fill":{"field":"s","type":"nominal","scale":{"domain":["TD-MTD","Meas","CompMod"],"range":["#0000ff","#000000","#ff0000"]},"legend":null}}}
 ]},
{"width":306,"height":382,
 "title":{"text":"820MHz P\u2007\u2007(dBm)","subtitle":"\u2800\u2800\u2800\u2800out"},
 "layer":[
  {"data":{"name":"dots"},"mark":{"type":"point","filled":true,"color":"black","size":6,"opacity":1},
   "encoding":{"x":{"field":"x","type":"quantitative","scale":{"domain":[0,6],"nice":false,"zero":false},"axis":{"values":[0,2,4,6],"title":["real(Z\u2007) Ω","\u2800\u2800\u2800L"],"titleLineHeight":8,"labelPadding":10,"titlePadding":3}},
               "y":{"field":"y","type":"quantitative","scale":{"domain":[-3,6],"nice":false,"zero":false},"axis":{"values":[-3,-2,-1,0,1,2,3,4,5,6],"labelExpr":"''+datum.value","title":["imag(Z\u2007) Ω","\u2800\u2800\u2800L"],"titleLineHeight":8,"labelPadding":6,"titlePadding":0}}}},
  {"data":{"name":"lines"},"transform":[{"filter":"datum.p==='820'"}],"mark":{"type":"line","strokeWidth":2.2,"strokeCap":"butt"},
   "encoding":{"x":{"field":"x","type":"quantitative"},"y":{"field":"y","type":"quantitative"},
     "color":{"field":"s","type":"nominal","scale":{"domain":["TD-MTD","Meas","CompMod"],"range":["#0000ff","#000000","#ff0000"]},
       "legend":{"title":null,"orient":"bottom-left","offset":13,"fillColor":"white","strokeColor":"black","padding":4,"cornerRadius":0,"symbolType":"M -1 0 A 2.8 0.8 0 0 1 4.6 0 A 2.8 0.8 0 0 0 -1 0 M -1 0 A 2.8 0.8 0 0 0 4.6 0 A 2.8 0.8 0 0 1 -1 0 M 0.05 0 A 1.75 0.45 0 0 1 3.55 0 A 1.75 0.45 0 0 0 0.05 0 M 0.05 0 A 1.75 0.45 0 0 0 3.55 0 A 1.75 0.45 0 0 1 0.05 0 M 1.1 0 A 0.7 0.15 0 0 1 2.5 0 A 0.7 0.15 0 0 0 1.1 0 M 1.1 0 A 0.7 0.15 0 0 0 2.5 0 A 0.7 0.15 0 0 1 1.1 0","symbolSize":324,"symbolStrokeWidth":1.6,"labelFont":"DejaVu Sans","labelFontSize":14,"labelFontWeight":"bold","labelColor":"black","labelOffset":36,"rowPadding":0,"clipHeight":18,"labelLimit":90}},
     "strokeDash":{"field":"s","type":"nominal","scale":{"domain":["TD-MTD","Meas","CompMod"],"range":[[2,3],[1,0],[9,5]]},
       "legend":{"title":null,"orient":"bottom-left","offset":13,"fillColor":"white","strokeColor":"black","padding":4,"cornerRadius":0,"symbolType":"M -1 0 A 2.8 0.8 0 0 1 4.6 0 A 2.8 0.8 0 0 0 -1 0 M -1 0 A 2.8 0.8 0 0 0 4.6 0 A 2.8 0.8 0 0 1 -1 0 M 0.05 0 A 1.75 0.45 0 0 1 3.55 0 A 1.75 0.45 0 0 0 0.05 0 M 0.05 0 A 1.75 0.45 0 0 0 3.55 0 A 1.75 0.45 0 0 1 0.05 0 M 1.1 0 A 0.7 0.15 0 0 1 2.5 0 A 0.7 0.15 0 0 0 1.1 0 M 1.1 0 A 0.7 0.15 0 0 0 2.5 0 A 0.7 0.15 0 0 1 1.1 0","symbolSize":324,"symbolStrokeWidth":1.6,"labelFont":"DejaVu Sans","labelFontSize":14,"labelFontWeight":"bold","labelColor":"black","labelOffset":36,"rowPadding":0,"clipHeight":18,"labelLimit":90}},
     "detail":{"field":"g"},"order":{"value":null}}},
  {"data":{"name":"labels"},"transform":[{"filter":"datum.p==='820'"}],"mark":{"type":"text","font":"DejaVu Sans","fontSize":16,"fontWeight":"bold"},
   "encoding":{"x":{"field":"x","type":"quantitative"},"y":{"field":"y","type":"quantitative"},"text":{"field":"t"},"angle":{"field":"a","type":"quantitative","scale":null},
     "fill":{"field":"s","type":"nominal","scale":{"domain":["TD-MTD","Meas","CompMod"],"range":["#0000ff","#000000","#ff0000"]},"legend":null}}}
 ]}
]
}
